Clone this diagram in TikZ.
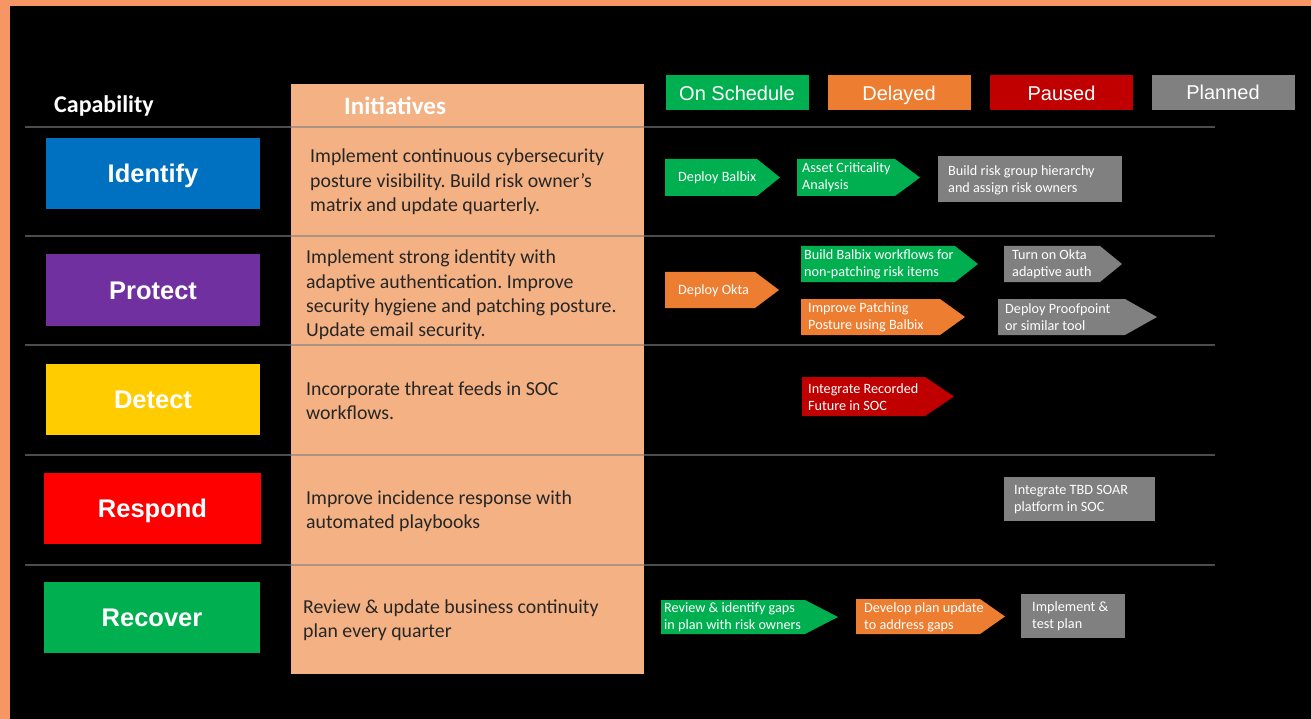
\documentclass[tikz,border=0pt]{standalone}
\usepackage{fontspec}
\setmainfont{Carlito}
\newfontfamily\arialfont{Liberation Sans}
\frenchspacing
\definecolor{frameorange}{RGB}{246,150,100}
\definecolor{initbg}{RGB}{244,177,131}
\definecolor{idblue}{RGB}{0,112,192}
\definecolor{prpurple}{RGB}{112,48,160}
\definecolor{deyellow}{RGB}{255,204,0}
\definecolor{rered}{RGB}{255,0,0}
\definecolor{ongreen}{RGB}{0,176,80}
\definecolor{delorange}{RGB}{237,125,49}
\definecolor{pausered}{RGB}{192,0,0}
\definecolor{plangray}{RGB}{128,128,128}

\begin{document}
\begin{tikzpicture}[x=1pt,y=-1pt,
  capbox/.style={minimum width=214pt, minimum height=71pt, inner sep=0pt, text=white,
    text height=18.3pt, text depth=0pt, font=\arialfont\bfseries\fontsize{25.5}{30}\selectfont},
  legbox/.style={minimum width=143pt, minimum height=35pt, inner sep=0pt, text=white,
    text height=14.3pt, text depth=0pt, font=\arialfont\fontsize{20}{24}\selectfont},
  head/.style={anchor=west, inner sep=0pt, text=white, font=\bfseries\fontsize{24}{28}\selectfont},
  initext/.style={anchor=west, align=left, inner sep=0pt, text=black!85,
    font=\fontsize{19.8}{24.3}\selectfont},
  steptext/.style={anchor=west, align=left, inner sep=0pt, text=white,
    font=\fontsize{14.2}{17}\selectfont},
  rowline/.style={draw=gray, line width=1.5pt, opacity=0.6}]

% background and frame
\fill[frameorange] (0,0) rectangle (1311,719);
\fill[black] (10,6) rectangle (1311,719);
\useasboundingbox (0,0) rectangle (1311,719);

% initiatives column
\fill[initbg] (291,84) rectangle (644,674);

% row lines
\foreach \y in {127,236,345,455,565}
  \draw[rowline] (25,\y) -- (1215,\y);

% headings
\node[head] (caphead) at (54,106) {Capability};
\node[head, font=\bfseries\fontsize{25}{28}\selectfont] (inithead) at (344,106) {Initiatives};

% legend
\node[legbox, fill=ongreen] (onsched) at (737,93) {On Schedule};
\node[legbox, fill=delorange] (delayed) at (899,93) {Delayed};
\node[legbox, fill=pausered] (paused) at (1061.5,93) {Paused};
\node[legbox, fill=plangray] (planned) at (1223,92.5) {Planned};

% capabilities
\node[capbox, fill=idblue] (identify) at (153,173.5) {Identify};
\node[capbox, fill=prpurple] (protect) at (153,290) {Protect};
\node[capbox, fill=deyellow] (detect) at (153,399) {Detect};
\node[capbox, fill=rered, minimum width=217pt] (respond) at (152.5,508) {Respond};
\node[capbox, fill=ongreen, minimum width=216pt] (recover) at (152,617) {Recover};

% initiatives
\node[initext] (init1) at (310,182) {Implement continuous cybersecurity\\posture visibility. Build risk owner’s\\matrix and update quarterly.};
\node[initext] (init2) at (306,295) {Implement strong identity with\\adaptive authentication. Improve\\security hygiene and patching posture.\\Update email security.};
\node[initext] (init3) at (306,401) {Incorporate threat feeds in SOC\\workflows.};
\node[initext] (init4) at (306,511) {Improve incidence response with\\automated playbooks};
\node[initext] (init5) at (303,620) {Review \& update business continuity\\plan every quarter};

% identify steps
\fill[ongreen] (665,159) -- (757,159) -- (780,177.5) -- (757,196) -- (665,196) -- cycle;
\node[steptext] (balbix) at (678,178) {Deploy Balbix};
\fill[ongreen] (797,159) -- (895,159) -- (920,177.5) -- (895,196) -- (797,196) -- cycle;
\node[steptext] (asset) at (802,177.5) {Asset Criticality\\Analysis};
\fill[plangray] (938,156) rectangle (1122,202);
\node[steptext] (riskgroup) at (948,180) {Build risk group hierarchy\\and assign risk owners};

% protect steps
\fill[delorange] (665,272) -- (755,272) -- (779,290) -- (755,308) -- (665,308) -- cycle;
\node[steptext] (okta) at (678,290.5) {Deploy Okta};
\fill[ongreen] (801,246) -- (955,246) -- (978,264) -- (955,282) -- (801,282) -- cycle;
\node[steptext] (workflows) at (804,264.5) {Build Balbix workflows for\\non-patching risk items};
\fill[delorange] (801,299) -- (940,299) -- (965,317) -- (940,335) -- (801,335) -- cycle;
\node[steptext] (patching) at (808,317.5) {Improve Patching\\Posture using Balbix};
\fill[plangray] (1004,246) -- (1100,246) -- (1122,264) -- (1100,282) -- (1004,282) -- cycle;
\node[steptext] (adaptive) at (1012,264.5) {Turn on Okta\\adaptive auth};
\fill[plangray] (998,299) -- (1125,299) -- (1157,317) -- (1125,335) -- (998,335) -- cycle;
\node[steptext] (proofpoint) at (1005,317.5) {Deploy Proofpoint\\or similar tool};

% detect steps
\fill[pausered] (802,377) -- (925,377) -- (954,396.5) -- (925,416) -- (802,416) -- cycle;
\node[steptext] (recorded) at (808,397) {Integrate Recorded\\Future in SOC};

% respond steps
\fill[plangray] (1004,477) rectangle (1155,521);
\node[steptext] (soar) at (1014,500) {Integrate TBD SOAR\\platform in SOC};

% recover steps
\fill[ongreen] (661,600) -- (805,600) -- (838,617) -- (805,634) -- (661,634) -- cycle;
\node[steptext] (review) at (664,617) {Review \& identify gaps\\in plan with risk owners};
\fill[delorange] (856,599) -- (980,599) -- (1005,616.5) -- (980,634) -- (856,634) -- cycle;
\node[steptext] (develop) at (864,617) {Develop plan update\\to address gaps};
\fill[plangray] (1021,594) rectangle (1125,638);
\node[steptext] (testplan) at (1032,616.5) {Implement \&\\test plan};
\end{tikzpicture}
\end{document}
